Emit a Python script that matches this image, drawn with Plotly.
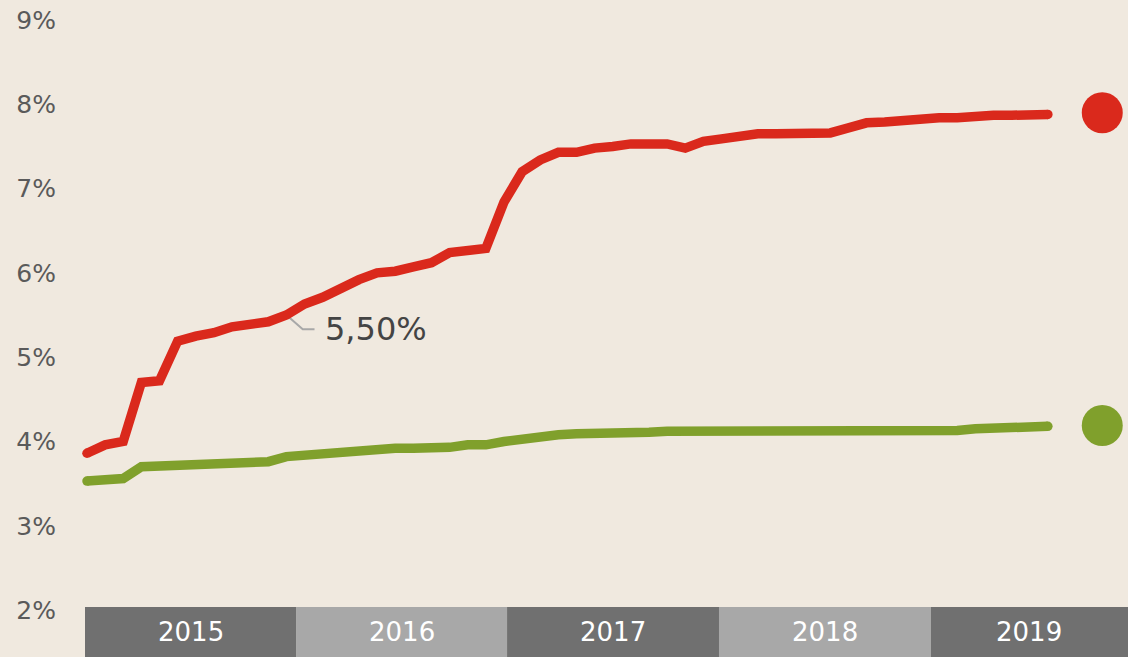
import plotly.graph_objects as go

# Period index (roughly monthly observations, 2015 - mid 2019)
periods = list(range(54))

red_values = [3.86, 3.96, 4.00, 4.70, 4.72, 5.19, 5.25, 5.29, 5.36, 5.38,
              5.42, 5.50, 5.63, 5.71, 5.82, 5.92, 6.00, 6.02, 6.07, 6.12,
              6.24, 6.26, 6.29, 6.84, 7.20, 7.34, 7.43, 7.43, 7.48, 7.50,
              7.53, 7.53, 7.53, 7.48, 7.56, 7.59, 7.62, 7.65, 7.65, 7.65,
              7.65, 7.66, 7.72, 7.78, 7.79, 7.81, 7.84, 7.84, 7.84, 7.86,
              7.87, 7.87, 7.88, 7.88]

green_values = [3.53, 3.54, 3.56, 3.70, 3.71, 3.73, 3.73, 3.74, 3.76, 3.76,
                3.76, 3.82, 3.84, 3.85, 3.86, 3.90, 3.92, 3.92, 3.92, 3.92,
                3.93, 3.96, 3.96, 4.00, 4.03, 4.05, 4.08, 4.09, 4.09, 4.09,
                4.09, 4.11, 4.12, 4.12, 4.11, 4.11, 4.11, 4.11, 4.11, 4.11,
                4.11, 4.11, 4.11, 4.11, 4.11, 4.11, 4.11, 4.12, 4.13, 4.15,
                4.16, 4.165, 4.17, 4.18]

dot_x = 56
red_dot = 7.90
green_dot = 4.19

years = ["2015", "2016", "2017", "2018", "2019"]
year_edges = [-0.11, 11.53, 23.17, 34.86, 46.55, 57.42]
year_colors = ["#707070", "#a8a8a8", "#707070", "#a8a8a8", "#707070"]

y_ticks = [2, 3, 4, 5, 6, 7, 8, 9]
y_ticktext = ["2%", "3%", "4%", "5%", "6%", "7%", "8%", "9%"]

annot_index = 11
annot_text = "5,50%"

RED = "#da291c"
GREEN = "#80a02c"
BG = "#f0e9df"
LW = 9.5

fig = go.Figure()

for vals, col, dv in [(green_values, GREEN, green_dot), (red_values, RED, red_dot)]:
    fig.add_trace(go.Scatter(x=periods, y=vals, mode="lines",
                             line=dict(color=col, width=LW), hoverinfo="skip"))
    # round caps
    fig.add_trace(go.Scatter(x=[periods[0], periods[-1]], y=[vals[0], vals[-1]],
                             mode="markers", cliponaxis=False,
                             marker=dict(color=col, size=LW, line=dict(width=0)),
                             hoverinfo="skip"))
    fig.add_trace(go.Scatter(x=[dot_x], y=[dv], mode="markers", cliponaxis=False,
                             marker=dict(color=col, size=41, line=dict(width=0)),
                             hoverinfo="skip"))

shapes = []
annotations = []
band_top = 50 / 657
for i, yr in enumerate(years):
    shapes.append(dict(type="rect", xref="x", yref="paper",
                       x0=year_edges[i], x1=year_edges[i + 1], y0=0, y1=band_top,
                       fillcolor=year_colors[i], line=dict(width=0), layer="above"))
    annotations.append(dict(x=(year_edges[i] + year_edges[i + 1]) / 2, y=band_top / 2,
                            xref="x", yref="paper", text=yr, showarrow=False,
                            font=dict(family="DejaVu Sans", size=26, color="#ffffff"),
                            xanchor="center", yanchor="middle"))

# leader line for the label
ax = periods[annot_index]
ay = red_values[annot_index]
shapes.append(dict(type="path", xref="x", yref="y",
                   path=f"M {ax} {ay} L {ax + 0.9} {ay - 0.17} L {ax + 1.55} {ay - 0.17}",
                   line=dict(color="#a8a8a8", width=2), layer="below"))
annotations.append(dict(x=ax + 2.0, y=ay - 0.17, xref="x", yref="y", text=annot_text,
                        showarrow=False, xanchor="left", yanchor="middle",
                        font=dict(family="DejaVu Sans", size=32, color="#444444")))

fig.update_layout(
    width=1128, height=657,
    margin=dict(l=85, r=0, t=0, b=0),
    paper_bgcolor=BG, plot_bgcolor=BG,
    showlegend=False,
    shapes=shapes, annotations=annotations,
    hovermode=False,
    xaxis=dict(range=[-0.11, 57.42], showgrid=False, zeroline=False,
               showticklabels=False, ticks="", showline=False),
    yaxis=dict(range=[1.443, 9.237], showgrid=False, zeroline=False,
               tickvals=y_ticks, ticktext=y_ticktext, ticks="", showline=False,
               ticklabelstandoff=28,
               tickfont=dict(family="DejaVu Sans", size=25, color="#5a5a5a")),
)

fig.write_html("out.html", config={"displayModeBar": False})
